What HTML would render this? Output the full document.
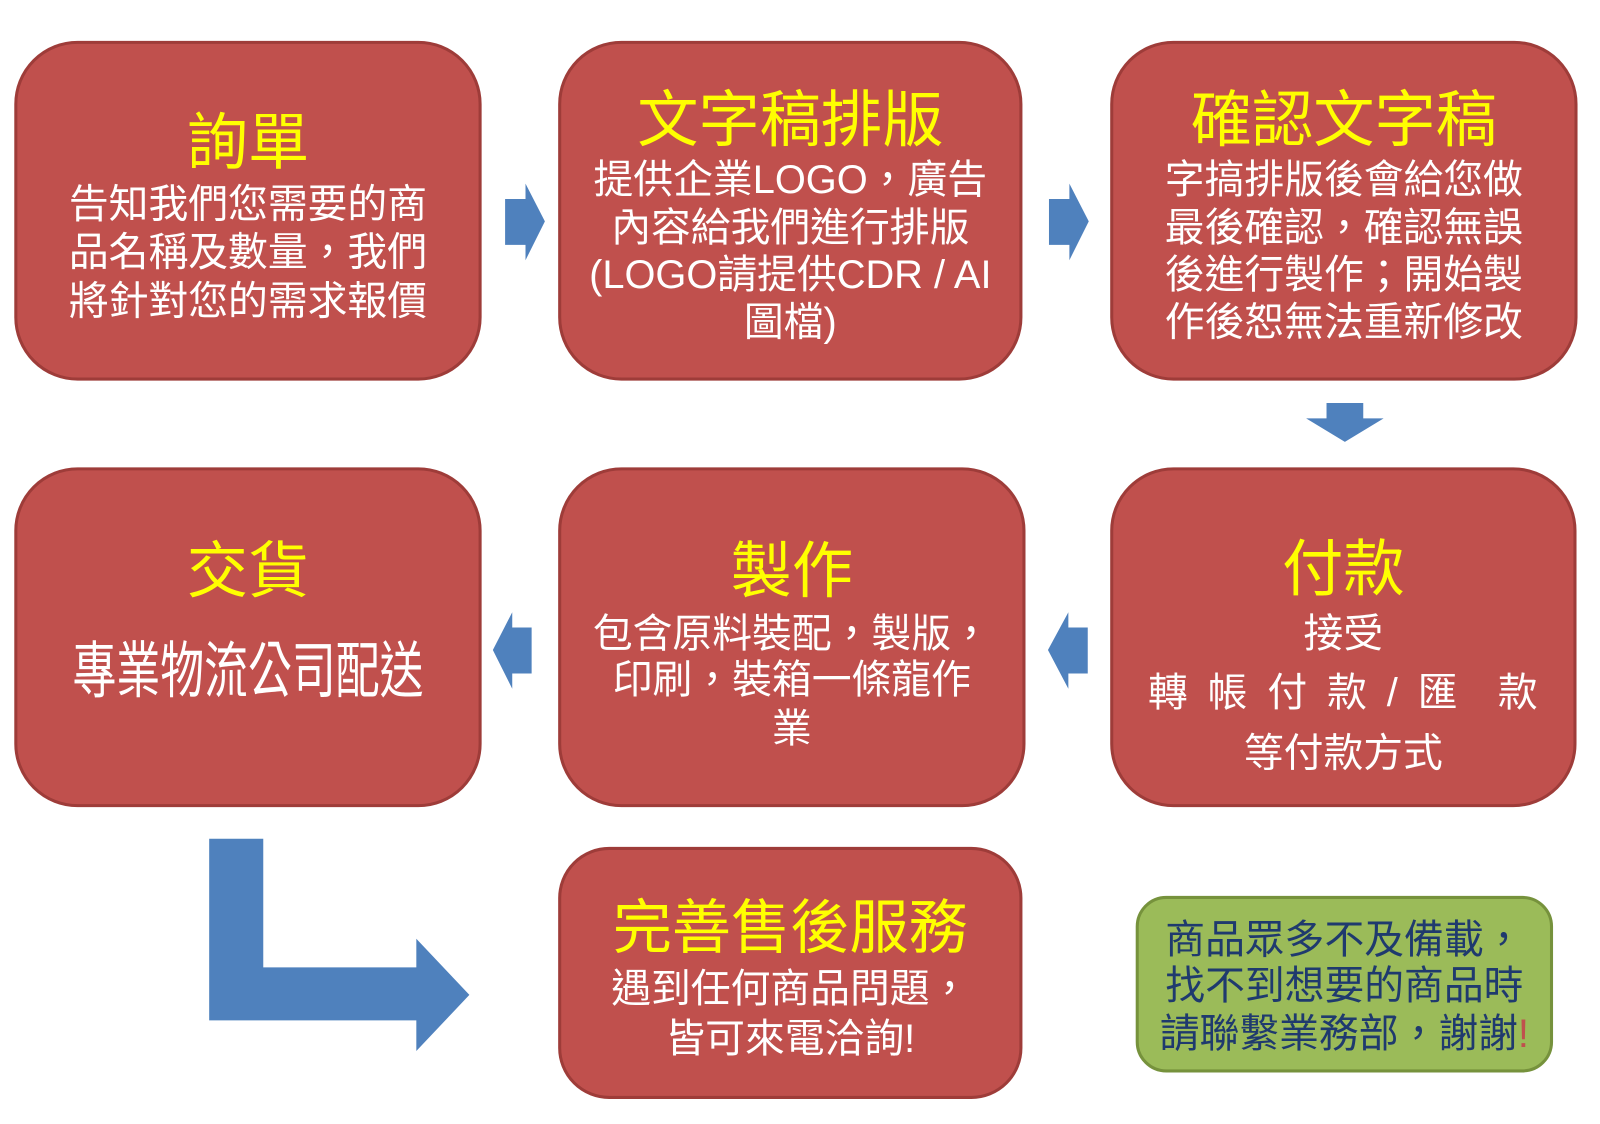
<!DOCTYPE html>
<html><head><meta charset="utf-8"><style>
body{margin:0;width:1600px;height:1124px;background:#fff;position:relative;overflow:hidden;font-family:"Liberation Sans","Noto Sans CJK TC",sans-serif}
#w{position:absolute;left:0;top:0;width:1568px;height:1101px;transform:scale(1.0204);transform-origin:0 0}
.b{position:absolute;background:#C0504D;border:3px solid #9E3C39;border-radius:62px;box-sizing:border-box}
.g{position:absolute;background:#9BBB59;border:3px solid #76923C;border-radius:30px;box-sizing:border-box}
.t{position:absolute;text-align:center;line-height:1;white-space:nowrap;color:#fff;font-size:39px}
.y{color:#FFFF00;font-size:60px}
.n{color:#1F3A6E;font-size:39px}
</style></head><body><div id="w">
<div class="b" style="left:14px;top:40px;width:458px;height:333px"></div>
<div class="b" style="left:547px;top:40px;width:455px;height:333px"></div>
<div class="b" style="left:1088px;top:40px;width:458px;height:333px"></div>
<div class="b" style="left:14px;top:458px;width:458px;height:333px"></div>
<div class="b" style="left:547px;top:458px;width:458px;height:333px"></div>
<div class="b" style="left:1088px;top:458px;width:457px;height:333px"></div>
<div class="b" style="left:547px;top:830px;width:455px;height:247px;border-radius:50px"></div>
<div class="g" style="left:1113px;top:878px;width:409px;height:173px"></div>

<svg width="1568" height="1101" style="position:absolute;left:0;top:0">
<g fill="#4F81BD">
<polygon points="495,195 515,195 515,180 534,217 515,255 515,240 495,240"/>
<polygon points="1028,195 1048,195 1048,180 1067,217 1048,255 1048,240 1028,240"/>
<polygon points="1300,395 1336,395 1336,410 1356,410 1318,433 1280,410 1300,410"/>
<polygon points="521,615 502,615 502,600 483,637 502,675 502,660 521,660"/>
<polygon points="1066,615 1047,615 1047,600 1027,637 1047,675 1047,660 1066,660"/>
<polygon points="205,822 258,822 258,948 408,948 408,920 460,975 408,1030 408,1000 205,1000"/>
</g></svg>

<div class="t y" style="left:14px;width:458px;top:110px">詢單</div>
<div class="t" style="left:14px;width:458px;top:181px">告知我們您需要的商</div>
<div class="t" style="left:14px;width:458px;top:228px">品名稱及數量，我們</div>
<div class="t" style="left:14px;width:458px;top:276px">將針對您的需求報價</div>

<div class="t y" style="left:547px;width:455px;top:88px">文字稿排版</div>
<div class="t" style="left:547px;width:455px;top:157px">提供企業LOGO，廣告</div>
<div class="t" style="left:547px;width:455px;top:204px">內容給我們進行排版</div>
<div class="t" style="left:547px;width:455px;top:250px">(LOGO請提供CDR / AI</div>
<div class="t" style="left:547px;width:455px;top:297px">圖檔)</div>

<div class="t y" style="left:1088px;width:458px;top:88px">確認文字稿</div>
<div class="t" style="left:1088px;width:458px;top:157px">字搞排版後會給您做</div>
<div class="t" style="left:1088px;width:458px;top:204px">最後確認，確認無誤</div>
<div class="t" style="left:1088px;width:458px;top:250px">後進行製作；開始製</div>
<div class="t" style="left:1088px;width:458px;top:297px">作後恕無法重新修改</div>

<div class="t y" style="left:14px;width:458px;top:530px">交貨</div>
<div class="t" style="left:14px;width:458px;top:638px;font-size:43px;transform:scaleY(1.4)">專業物流公司配送</div>

<div class="t y" style="left:547px;width:458px;top:530px">製作</div>
<div class="t" style="left:547px;width:458px;top:602px">包含原料裝配，製版，</div>
<div class="t" style="left:547px;width:458px;top:647px">印刷，裝箱一條龍作</div>
<div class="t" style="left:547px;width:458px;top:695px">業</div>

<div class="t y" style="left:1088px;width:457px;top:528px">付款</div>
<div class="t" style="left:1088px;width:457px;top:602px">接受</div>
<div class="t" style="left:1125px;width:382px;top:660px;display:flex;justify-content:space-between"><span>轉</span><span>帳</span><span>付</span><span>款</span><span>/</span><span>匯</span><span style="margin-left:20px">款</span></div>
<div class="t" style="left:1088px;width:457px;top:719px">等付款方式</div>

<div class="t y" style="left:547px;width:455px;top:881px;font-size:58px">完善售後服務</div>
<div class="t" style="left:547px;width:455px;top:950px">遇到任何商品問題，</div>
<div class="t" style="left:547px;width:455px;top:999px">皆可來電洽詢!</div>

<div class="t n" style="left:1113px;width:409px;top:902px">商品眾多不及備載，</div>
<div class="t n" style="left:1113px;width:409px;top:947px">找不到想要的商品時</div>
<div class="t n" style="left:1113px;width:409px;top:994px">請聯繫業務部，謝謝<span style="color:#C0504D">!</span></div>
</div></body></html>
